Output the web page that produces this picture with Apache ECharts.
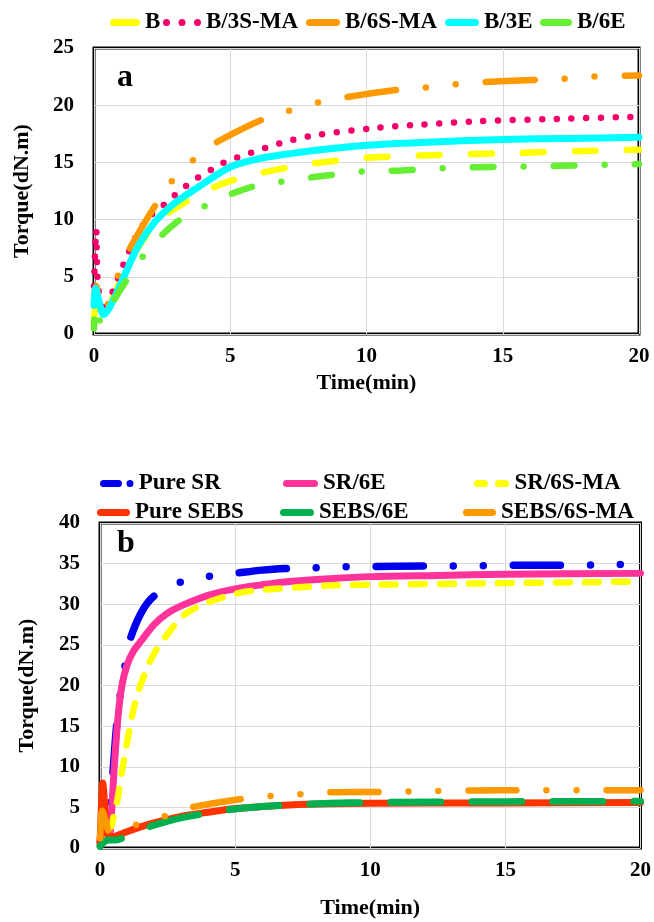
<!DOCTYPE html>
<html><head><meta charset="utf-8">
<script src="https://cdn.jsdelivr.net/npm/echarts@6/dist/echarts.min.js"></script>
<style>html,body{margin:0;padding:0;background:#fff}#c{width:654px;height:922px}</style>
</head><body><div id="c"></div>
<script>
// ---------- Panel a data (time in min, torque in dN.m) ----------
const namesA = ['B', 'B/3S-MA', 'B/6S-MA', 'B/3E', 'B/6E'];
const seriesB = [[0,1.0],[0.08,2.5],[0.3,1.8],[0.6,2.8],[1,4.8],[1.3,6.2],[1.8,8.2],[2.4,10.0],[3.4,11.6],[4.1,12.5],[4.9,13.3],[6,14.0],[7,14.5],[8,14.9],[10,15.4],[12,15.6],[15,15.8],[18,16.0],[20,16.1]];
const seriesB3SMA = [[0,4.2],[0.08,9.1],[0.14,4.5],[0.35,1.9],[0.7,3.8],[1,5.6],[1.5,8.3],[2,10.2],[2.43,11.0],[2.86,11.9],[3.2,12.6],[3.7,13.5],[4.14,14.1],[4.6,14.8],[5.1,15.3],[5.6,15.7],[7,16.8],[8.2,17.4],[10.3,18.0],[12,18.3],[14.1,18.6],[17,18.8],[20,19.0]];
const seriesB6SMA = [[0,3.5],[0.08,4.2],[0.2,2.5],[0.35,1.9],[0.7,4.0],[1.26,7.2],[1.8,9.5],[2.24,11.2],[2.8,13.2],[3.5,14.9],[4.26,16.4],[5,17.4],[6.04,18.6],[7,19.4],[8,20.1],[9,20.6],[11,21.3],[12,21.5],[13.1,21.8],[14.1,22.0],[16.1,22.2],[17.2,22.3],[18.3,22.5],[20,22.6]];
const seriesB3E = [[0,2.5],[0.06,4.0],[0.15,3.2],[0.35,1.7],[0.59,2.4],[1.04,4.7],[1.6,7.6],[2.2,9.7],[2.94,11.4],[3.8,12.8],[5.0,14.6],[6,15.3],[7,15.7],[8.3,16.1],[10,16.5],[12,16.75],[15,17.0],[17.5,17.1],[20,17.2]];
const seriesB6E = [[0,0.5],[0.05,2.5],[0.12,1.5],[0.3,1.0],[0.77,3.1],[1.25,4.9],[1.8,6.8],[2.43,8.5],[3.16,10.0],[4.0,11.1],[5,12.2],[5.85,12.9],[6.84,13.3],[8,13.7],[8.7,13.9],[9.8,14.2],[11.3,14.3],[12.8,14.5],[14.5,14.6],[17,14.7],[20,14.85]];

// ---------- Panel b data ----------
const namesB = ['Pure SR', 'SR/6E', 'SR/6S-MA', 'Pure SEBS', 'SEBS/6E', 'SEBS/6S-MA'];
const seriesPureSR = [[0,0.5],[0.1,1.5],[0.3,2.5],[0.45,8],[0.6,14.5],[0.75,18.9],[0.92,22.3],[1.05,25.0],[1.5,28.8],[2.0,31.0],[2.89,32.6],[3.94,33.4],[4.98,33.8],[6,34.2],[6.95,34.4],[7.97,34.5],[9.04,34.6],[10,34.65],[12,34.7],[14.2,34.75],[15.3,34.8],[17.2,34.8],[18.3,34.85],[20,34.9]];
const seriesSR6E = [[0,0.8],[0.1,3.0],[0.33,1.4],[0.42,4],[0.5,8.5],[0.65,15.5],[0.8,19.8],[1,22.5],[1.25,24.3],[1.5,25.4],[2,27.5],[2.5,28.9],[3,29.8],[4,31.1],[5,31.9],[6,32.4],[7,32.8],[8.5,33.15],[10,33.4],[12.5,33.55],[15,33.7],[20,33.8]];
const seriesSR6SMA = [[0,1.0],[0.1,3.5],[0.37,2.5],[0.5,3.8],[0.65,6.0],[0.8,9.2],[0.95,12.0],[1.1,14.8],[1.25,17.2],[1.45,19.6],[1.7,21.8],[1.96,23.7],[2.2,25.0],[2.45,26.1],[2.75,27.4],[3.2,28.9],[3.9,30.1],[4.4,30.7],[4.9,31.2],[5.5,31.6],[6.5,31.9],[8.5,32.3],[10,32.4],[15,32.6],[20,32.8]];
const seriesPureSEBS = [[0,0.5],[0.05,5],[0.1,8],[0.18,5],[0.25,2],[0.35,1.3],[0.6,1.5],[1,2.0],[1.5,2.6],[2,3.1],[3,3.9],[4,4.4],[5,4.85],[6,5.1],[7,5.3],[8.5,5.45],[10,5.5],[15,5.55],[20,5.6]];
const seriesSEBS6E = [[0,0.2],[0.1,0.6],[0.3,1.0],[0.6,1.0],[1,1.5],[1.5,2.2],[2,2.8],[3,3.7],[4,4.3],[5,4.8],[6,5.1],[7,5.3],[8.5,5.5],[10,5.6],[15,5.7],[20,5.75]];
const seriesSEBS6SMA = [[0,0.5],[0.08,4.6],[0.2,3.5],[0.35,2.0],[0.6,2.0],[1.29,2.8],[2.31,3.8],[3.25,4.9],[4.2,5.5],[5.17,6.0],[6.3,6.4],[7.35,6.6],[8.4,6.85],[10.4,6.9],[12,7.0],[15,7.1],[20,7.1]];

const FONT = '"Liberation Serif", "Times New Roman", serif';

function capsule(w, h) { const r = h / 2; return `path://M${r},0H${w-r}A${r},${r},0,0,1,${w-r},${h}H${r}A${r},${r},0,0,1,${r},0Z`; }
function circ(cx, cy, r) { return `M${cx-r},${cy}A${r},${r},0,1,0,${cx+r},${cy}A${r},${r},0,1,0,${cx-r},${cy}Z`; }
function caps(x0, x1, h) { const r = h / 2; return `M${x0+r},0H${x1-r}A${r},${r},0,0,1,${x1-r},${h}H${x0+r}A${r},${r},0,0,1,${x0+r},0Z`; }
const dotsIcon = 'path://' + circ(3.5,3.5,3.5) + circ(19,3.5,3.5) + circ(34.5,3.5,3.5);
const dashDotIcon = 'path://' + caps(0,22,7) + circ(30,3.5,3.5);
const dashDashIcon = 'path://' + caps(0,14,7) + caps(21,35,7);

function legendItem(name, left, top, icon, w, h) {
  return { data: [{ name: name, icon: icon }], left: left, top: top, itemWidth: w, itemHeight: h,
    selectedMode: false, padding: 0, itemGap: 0,
    textStyle: { fontFamily: FONT, fontWeight: 'bold', fontSize: 23, color: '#000' } };
}

function line(name, data, color, width, type, xi, offset) {
  return { name: name, type: 'line', data: data, xAxisIndex: xi, yAxisIndex: xi, symbol: 'none',
    smooth: 0.3, color: color, itemStyle: { color: color },
    lineStyle: { color: color, width: width, type: type, dashOffset: offset || 0, cap: 'round', join: 'round' } };
}

const axisText = { fontFamily: FONT, fontWeight: 'bold', fontSize: 21, color: '#000' };
function xAx(gi, gap) {
  return { type: 'value', gridIndex: gi, min: 0, max: 20, interval: 5, name: 'Time(min)', nameLocation: 'middle', nameGap: gap,
    nameTextStyle: { fontFamily: FONT, fontWeight: 'bold', fontSize: 22, color: '#000' },
    axisLine: { show: false }, axisTick: { show: false }, axisLabel: Object.assign({ margin: 12 }, axisText),
    splitLine: { show: true, lineStyle: { color: '#d9d9d9', width: 1 } } };
}
function yAx(gi, max, gap) {
  return { type: 'value', gridIndex: gi, min: 0, max: max, interval: 5, name: 'Torque(dN.m)', nameLocation: 'middle', nameGap: gap, nameRotate: 90,
    nameTextStyle: { fontFamily: FONT, fontWeight: 'bold', fontSize: 22, color: '#000' },
    axisLine: { show: false }, axisTick: { show: false }, axisLabel: Object.assign({ margin: 20 }, axisText),
    splitLine: { show: true, lineStyle: { color: '#d9d9d9', width: 1 } } };
}

const ddA = [49, 30, 0, 30, 0, 30];
const option = {
  animation: false,
  backgroundColor: '#fff',
  grid: [
    { left: 94, top: 48, width: 545, height: 286, show: true, borderColor: '#000', borderWidth: 3, backgroundColor: 'transparent' },
    { left: 100, top: 523, width: 542, height: 325, show: true, borderColor: '#000', borderWidth: 3, backgroundColor: 'transparent' }
  ],
  xAxis: [xAx(0, 38), xAx(1, 49)],
  yAxis: [yAx(0, 25, 61), yAx(1, 40, 62)],
  legend: [
    legendItem(namesA[0], 110, 11, capsule(30, 7), 30, 7),
    legendItem(namesA[1], 163, 11, dotsIcon, 38, 7),
    legendItem(namesA[2], 306, 11, capsule(34, 7), 34, 7),
    legendItem(namesA[3], 445, 11, capsule(34, 7), 34, 7),
    legendItem(namesA[4], 540, 11, capsule(32, 7), 32, 7),
    legendItem(namesB[0], 100, 472, dashDotIcon, 34, 7),
    legendItem(namesB[1], 283, 472, capsule(35, 7), 35, 7),
    legendItem(namesB[2], 474, 472, dashDashIcon, 36, 7),
    legendItem(namesB[3], 97, 501, capsule(33, 7), 33, 7),
    legendItem(namesB[4], 280, 501, capsule(34, 7), 34, 7),
    legendItem(namesB[5], 463, 501, capsule(33, 7), 33, 7)
  ],
  graphic: [
    { type: 'text', left: 117, top: 62, style: { text: 'a', font: 'bold 32px ' + FONT, fill: '#000' } },
    { type: 'text', left: 117, top: 528, style: { text: 'b', font: 'bold 32px ' + FONT, fill: '#000' } }
  ],
  series: [
    line(namesA[0], seriesB, '#ffff00', 6.5, [21, 31], 0, 6),
    line(namesA[1], seriesB3SMA, '#f5006a', 6.5, [0, 14.7], 0, 0),
    line(namesA[2], seriesB6SMA, '#ff9900', 6.5, ddA, 0, 33),
    line(namesA[3], seriesB3E, '#00ffff', 7, 'solid', 0, 0),
    line(namesA[4], seriesB6E, '#66ee33', 6.5, [21, 30, 0, 30], 0, 12),
    line(namesB[0], seriesPureSR, '#0000ee', 7.5, [47, 30, 0, 30, 0, 30], 1, 63),
    line(namesB[1], seriesSR6E, '#ff3399', 7, 'solid', 1, 0),
    line(namesB[2], seriesSR6SMA, '#ffff00', 6.5, [14, 15], 1, 0),
    line(namesB[3], seriesPureSEBS, '#ff3300', 7, 'solid', 1, 0),
    line(namesB[4], seriesSEBS6E, '#00b050', 7, [50, 31], 1, 26),
    line(namesB[5], seriesSEBS6SMA, '#ff9900', 6.5, [48, 30, 0, 30, 0, 30], 1, -6)
  ]
};
const chart = echarts.init(document.getElementById('c'), null, { renderer: 'canvas' });
chart.setOption(option);
</script></body></html>
